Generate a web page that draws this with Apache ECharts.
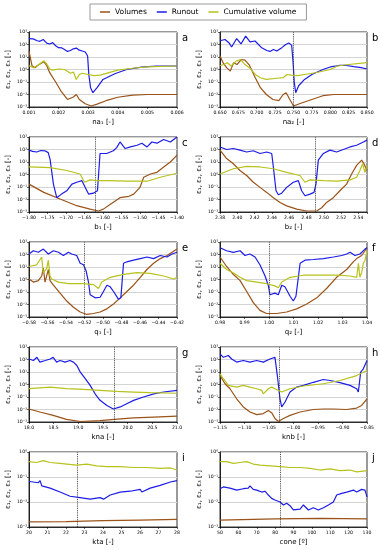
<!DOCTYPE html>
<html><head><meta charset="utf-8">
<script src="https://cdn.jsdelivr.net/npm/echarts@6/dist/echarts.min.js"></script>
<style>html,body{margin:0;padding:0;background:#fff}#c{width:380px;height:550px}</style>
</head><body><div id="c"></div>
<script>
// ---------- DATA ----------
const seriesNames = ['Volumes', 'Runout', 'Cumulative volume'];
const panelLetters = ['a','b','c','d','e','f','g','h','i','j'];
const xAxisNames = ['na\u2081 [-]','na\u2082 [-]','b\u2081 [-]','b\u2082 [-]','q\u2081 [-]','q\u2082 [-]','kna [-]','knb [-]','kta [-]','cone [\u00ba]'];
const yAxisName = '\u03b5\u2081, \u03b5\u2082, \u03b5\u2083 [-]';
const xMins = [0.001, 0.65, -1.8, 2.38, -0.58, 0.98, 18, -1.15, 20, 50];
const xMaxs = [0.006, 0.85, -1.4, 2.55, -0.42, 1.04, 21, -0.85, 28, 130];
const xSteps = [0.001, 0.025, 0.05, 0.02, 0.02, 0.01, 0.5, 0.05, 1, 10];
const xDecimals = [3, 3, 2, 2, 2, 2, 1, 2, 0, 0];
const optimumX = [0.00315, 0.753, -1.617, 2.488, -0.515, 1.0, 19.72, -1.03, 22.6, 83];
const yMinAll = 1e-3;
const yMaxs = [1e3, 1e3, 1e3, 1e3, 1e3, 1e3, 1e3, 1e3, 1, 1];

// panel a
const aVol = [[0.001,30],[0.00105,7.9],[0.0011,2.0],[0.0012,1.4],[0.0013,2.2],[0.0015,4.2],[0.0016,2.0],[0.0017,0.56],[0.0019,0.1],[0.0021,0.016],[0.0023,0.004],[0.0025,0.0063],[0.0026,0.01],[0.0027,0.004],[0.0029,0.0018],[0.0031,0.0012],[0.0033,0.0017],[0.0036,0.0032],[0.004,0.006],[0.0045,0.0089],[0.005,0.01],[0.006,0.01]];
const aRun = [[0.001,300],[0.00114,280],[0.00128,200],[0.00137,180],[0.00148,250],[0.0016,130],[0.0017,110],[0.0018,140],[0.0019,79],[0.002,56],[0.0021,54],[0.0022,40],[0.0023,28],[0.0024,33],[0.0025,45],[0.0026,52],[0.0027,35],[0.0028,30],[0.0029,25],[0.00298,12],[0.00302,0.4],[0.00308,0.035],[0.00316,0.014],[0.0033,0.035],[0.0035,0.16],[0.0039,0.46],[0.0043,1.0],[0.0048,1.55],[0.0053,1.9],[0.006,1.9]];
const aCum = [[0.001,2.0],[0.00115,1.4],[0.0013,2.2],[0.0015,5.0],[0.0016,2.8],[0.0017,1.1],[0.0018,0.89],[0.002,1.1],[0.0022,1.0],[0.0024,0.5],[0.0025,0.63],[0.0026,0.16],[0.0027,0.4],[0.0028,0.5],[0.003,0.4],[0.0032,0.32],[0.0034,0.35],[0.0037,0.56],[0.004,0.89],[0.0045,1.26],[0.005,1.6],[0.006,1.9]];
// panel b
const bVol = [[0.65,12],[0.6545,3.2],[0.659,1.4],[0.664,0.74],[0.6685,3.5],[0.673,2.5],[0.679,6.3],[0.684,5.6],[0.69,2.2],[0.698,0.22],[0.705,0.035],[0.713,0.01],[0.722,0.004],[0.73,0.0032],[0.736,0.01],[0.74,0.014],[0.745,0.004],[0.75,0.0012],[0.76,0.002],[0.775,0.004],[0.79,0.008],[0.805,0.01],[0.85,0.01]];
const bRun = [[0.65,200],[0.6568,250],[0.6625,130],[0.6658,63],[0.6727,300],[0.6786,110],[0.6849,470],[0.6909,160],[0.6977,190],[0.7068,54],[0.7136,33],[0.718,28],[0.7227,40],[0.7273,30],[0.7341,56],[0.739,95],[0.7435,130],[0.7475,89],[0.7495,3.2],[0.751,0.1],[0.753,0.014],[0.757,0.05],[0.765,0.16],[0.775,0.4],[0.79,1.0],[0.8,1.6],[0.812,2.1],[0.822,2.1],[0.832,1.7],[0.842,1.4],[0.85,1.1]];
const bCum = [[0.65,2.0],[0.655,2.5],[0.66,3.5],[0.665,1.9],[0.672,4.7],[0.678,6.3],[0.684,2.5],[0.69,1.4],[0.698,0.4],[0.705,0.22],[0.713,0.16],[0.727,0.2],[0.736,0.22],[0.741,0.4],[0.747,0.35],[0.755,0.32],[0.765,0.4],[0.78,0.55],[0.8,1.0],[0.81,1.9],[0.825,2.5],[0.85,3.5]];
// panel c
const cVol = [[-1.8,0.17],[-1.76,0.037],[-1.716,0.011],[-1.671,0.0032],[-1.635,0.0017],[-1.612,0.0012],[-1.599,0.0017],[-1.58,0.0042],[-1.554,0.014],[-1.53,0.018],[-1.517,0.027],[-1.5,0.093],[-1.49,0.6],[-1.472,1.1],[-1.454,1.5],[-1.436,4.0],[-1.418,10],[-1.4,35]];
const cRun = [[-1.8,89],[-1.79,71],[-1.779,63],[-1.768,83],[-1.757,79],[-1.748,56],[-1.743,16],[-1.734,0.17],[-1.725,0.014],[-1.712,0.027],[-1.698,0.05],[-1.684,0.17],[-1.671,0.24],[-1.657,0.32],[-1.648,0.093],[-1.639,0.027],[-1.626,0.032],[-1.615,0.05],[-1.608,48],[-1.59,48],[-1.572,79],[-1.563,140],[-1.554,400],[-1.54,120],[-1.526,160],[-1.508,220],[-1.495,320],[-1.481,160],[-1.468,400],[-1.454,320],[-1.436,630],[-1.418,400],[-1.4,1000]];
const cCum = [[-1.8,4.0],[-1.743,3.5],[-1.698,2.1],[-1.662,1.1],[-1.65,0.24],[-1.635,0.37],[-1.617,0.32],[-1.59,0.32],[-1.536,0.29],[-1.481,0.29],[-1.445,0.6],[-1.4,1.26]];
// panel d
const dVol = [[2.38,89],[2.3877,19],[2.3954,7.2],[2.4031,2.1],[2.4108,0.83],[2.4185,0.24],[2.4263,0.093],[2.434,0.037],[2.4417,0.014],[2.4494,0.0058],[2.4571,0.0031],[2.4687,0.0017],[2.4802,0.0012],[2.4918,0.0012],[2.4976,0.0022],[2.5033,0.0058],[2.511,0.014],[2.5187,0.05],[2.5264,0.17],[2.5322,1.1],[2.538,5.4],[2.5438,14],[2.5465,7.2],[2.55,2.1]];
const dRun = [[2.38,160],[2.3877,100],[2.3954,120],[2.4031,89],[2.4108,63],[2.4185,79],[2.4263,48],[2.434,63],[2.4398,48],[2.4417,4.0],[2.4448,0.05],[2.4475,0.024],[2.4513,0.032],[2.4571,0.093],[2.4648,0.24],[2.4706,0.32],[2.4744,0.05],[2.4783,0.02],[2.4841,0.027],[2.4887,0.037],[2.491,0.17],[2.4937,14],[2.4995,48],[2.5072,89],[2.5149,63],[2.5226,100],[2.5303,160],[2.538,220],[2.5458,400],[2.55,560]];
const dCum = [[2.38,1.1],[2.3954,2.9],[2.4108,4.5],[2.4263,4.0],[2.4417,2.9],[2.4571,1.5],[2.4725,0.83],[2.4783,0.24],[2.4841,0.37],[2.4995,0.32],[2.5149,0.29],[2.5303,0.37],[2.538,0.6],[2.5418,2.1],[2.5449,7.2],[2.5476,1.5],[2.55,5.4]];
// panel e
const eVol = [[-0.58,1.1],[-0.5753,0.62],[-0.5699,0.81],[-0.5663,1.9],[-0.5645,8.3],[-0.5627,0.62],[-0.5591,6.3],[-0.5573,0.81],[-0.5536,0.35],[-0.5464,0.081],[-0.5392,0.019],[-0.532,0.006],[-0.5247,0.0025],[-0.5175,0.0016],[-0.5103,0.0019],[-0.5031,0.0025],[-0.4958,0.0045],[-0.4886,0.011],[-0.4814,0.034],[-0.4742,0.11],[-0.467,0.35],[-0.4597,1.5],[-0.4525,6.3],[-0.4453,20],[-0.4381,47],[-0.4308,83],[-0.4254,150],[-0.42,270]];
const eRun = [[-0.58,110],[-0.5753,200],[-0.5699,150],[-0.5645,270],[-0.5591,110],[-0.5536,200],[-0.5482,150],[-0.5428,83],[-0.5374,150],[-0.5338,110],[-0.5284,83],[-0.5247,20],[-0.5211,15],[-0.5182,4.7],[-0.5157,0.62],[-0.5139,0.06],[-0.5085,0.034],[-0.5031,0.038],[-0.4995,0.11],[-0.4958,0.35],[-0.4922,0.26],[-0.4886,0.11],[-0.4832,0.026],[-0.4807,0.034],[-0.4778,20],[-0.4742,26],[-0.467,35],[-0.4597,47],[-0.4525,63],[-0.4453,47],[-0.4381,83],[-0.4308,63],[-0.4254,110],[-0.42,150]];
const eCum = [[-0.58,11],[-0.5717,15],[-0.5663,63],[-0.5645,3.5],[-0.5608,7.9],[-0.5591,35],[-0.5573,1.9],[-0.5555,1.1],[-0.5482,0.62],[-0.5374,0.46],[-0.5211,0.46],[-0.5103,0.39],[-0.5049,0.19],[-0.5013,0.62],[-0.4922,1.5],[-0.4778,2.6],[-0.4634,3.5],[-0.4489,3.1],[-0.4344,1.9],[-0.4236,1.1],[-0.42,1.5]];
// panel f
const fVol = [[0.98,63],[0.9827,11],[0.9854,2.6],[0.9882,0.81],[0.9909,0.11],[0.9936,0.014],[0.9963,0.0034],[0.999,0.0019],[1.0031,0.0019],[1.0072,0.0025],[1.0113,0.0045],[1.0154,0.011],[1.0195,0.034],[1.0235,0.19],[1.0276,1.5],[1.0317,6.3],[1.0344,26],[1.0358,47],[1.0378,83],[1.0392,200],[1.04,350]];
const fRun = [[0.98,350],[0.9827,200],[0.9854,150],[0.9882,200],[0.9902,83],[0.9922,110],[0.9943,63],[0.9963,15],[0.9984,1.9],[0.9997,0.35],[1.0004,0.06],[1.0024,0.081],[1.0038,0.06],[1.0052,0.35],[1.0065,0.26],[1.0086,0.046],[1.0099,0.019],[1.011,0.046],[1.0127,20],[1.0147,35],[1.0181,40],[1.0222,47],[1.0263,63],[1.0297,83],[1.0317,110],[1.0331,150],[1.0351,83],[1.0371,110],[1.0392,270],[1.04,350]];
const fCum = [[0.98,20],[0.9827,6.3],[0.9854,3.5],[0.9882,1.5],[0.9909,0.81],[0.995,0.62],[0.9991,0.46],[1.0024,0.31],[1.0038,0.22],[1.0052,0.62],[1.0086,1.5],[1.014,2.2],[1.0222,2.2],[1.0276,2.2],[1.0331,1.9],[1.0358,1.5],[1.0365,20],[1.0371,1.5],[1.0378,3.5],[1.0385,20],[1.0392,35],[1.04,200]];
// panel g
const gVol = [[18,0.011],[18.22,0.0063],[18.49,0.0034],[18.76,0.0016],[19.04,0.0011],[19.44,0.0013],[19.73,0.0016],[20.12,0.0021],[20.53,0.0025],[21,0.003]];
const gRun = [[18,110],[18.09,83],[18.16,150],[18.22,62],[18.33,83],[18.43,110],[18.49,150],[18.56,62],[18.63,83],[18.73,62],[18.83,83],[18.9,62],[18.97,33],[19.04,9.8],[19.14,2.9],[19.24,0.85],[19.34,0.18],[19.44,0.054],[19.58,0.021],[19.71,0.011],[19.85,0.016],[19.98,0.029],[20.12,0.054],[20.32,0.1],[20.53,0.18],[20.73,0.25],[21,0.34]];
const gCum = [[18,0.46],[18.43,0.62],[18.76,0.46],[19.1,0.41],[19.44,0.34],[19.78,0.28],[20.12,0.25],[20.46,0.22],[21,0.2]];
// panel h
const hVol = [[-1.15,5.2],[-1.1398,1.15],[-1.1296,0.46],[-1.116,0.072],[-1.1024,0.016],[-1.0888,0.0063],[-1.0752,0.0039],[-1.0616,0.0047],[-1.0514,0.0085],[-1.0446,0.0056],[-1.0378,0.0019],[-1.031,0.0011],[-1.0207,0.0019],[-1.0071,0.0034],[-0.9867,0.0063],[-0.9595,0.01],[-0.9391,0.011],[-0.9187,0.011],[-0.8915,0.01],[-0.8711,0.013],[-0.8609,0.021],[-0.85,0.072]];
const hRun = [[-1.15,280],[-1.1432,150],[-1.133,210],[-1.1262,110],[-1.116,62],[-1.1024,83],[-1.0888,62],[-1.0752,83],[-1.0616,62],[-1.048,110],[-1.0378,150],[-1.033,5.2],[-1.0276,0.072],[-1.0241,0.016],[-1.0173,0.04],[-1.0071,0.25],[-0.9935,0.62],[-0.9799,0.85],[-0.9595,1.5],[-0.9391,2.5],[-0.9255,2.1],[-0.9051,1.4],[-0.8847,0.85],[-0.8711,0.46],[-0.8677,0.25],[-0.8629,9.8],[-0.8575,18],[-0.85,83]];
const hCum = [[-1.15,7.2],[-1.1432,2.9],[-1.133,0.85],[-1.116,0.62],[-1.1024,0.85],[-1.0888,0.62],[-1.0752,0.46],[-1.065,0.34],[-1.0616,0.18],[-1.0514,0.46],[-1.0446,0.62],[-1.0378,0.46],[-1.0241,0.25],[-1.0071,0.46],[-0.9799,0.76],[-0.9391,1.15],[-0.9051,2.1],[-0.8711,5.2],[-0.85,13]];
// panel i
const iVol = [[20,0.0016],[22,0.00165],[24,0.0018],[26,0.0019],[28,0.002]];
const iRun = [[20,0.066],[20.23,0.063],[20.51,0.059],[20.6,0.072],[20.69,0.044],[21.14,0.036],[21.68,0.025],[22.22,0.017],[22.76,0.015],[23.3,0.013],[23.84,0.015],[24.03,0.013],[24.39,0.019],[24.93,0.025],[25.47,0.027],[26.01,0.032],[26.1,0.025],[26.55,0.036],[27.09,0.046],[27.64,0.063],[28,0.072]];
const iCum = [[20,0.41],[20.41,0.38],[20.78,0.45],[21.14,0.38],[21.68,0.35],[22.04,0.33],[22.58,0.3],[23.12,0.33],[23.66,0.28],[24.21,0.26],[24.93,0.26],[25.65,0.24],[26.37,0.24],[27.09,0.22],[27.64,0.23],[28,0.19]];
// panel j
const jVol = [[50,0.0019],[80,0.0021],[105,0.0022],[130,0.0021]];
const jRun = [[50,0.034],[51.8,0.04],[55.4,0.036],[59.1,0.03],[62.7,0.034],[65.4,0.036],[66.3,0.044],[68.1,0.032],[70,0.03],[72.7,0.025],[74.5,0.027],[76.3,0.019],[78.1,0.014],[79.9,0.012],[82.7,0.01],[84.5,0.0076],[86.3,0.0089],[88.1,0.0071],[89.9,0.0048],[93.6,0.0052],[95.4,0.0076],[98.1,0.0048],[100.8,0.0059],[103.5,0.0048],[106.3,0.0059],[109,0.0076],[111.7,0.01],[113.5,0.019],[116.2,0.022],[119,0.025],[122.6,0.03],[124.4,0.025],[127.1,0.032],[128.9,0.03],[130,0.016]];
const jCum = [[50,0.41],[53.6,0.41],[57.3,0.35],[60.9,0.38],[64.5,0.41],[68.1,0.33],[71.8,0.3],[77.2,0.28],[82.7,0.26],[88.1,0.24],[93.6,0.24],[99,0.22],[104.4,0.19],[109.9,0.21],[115.3,0.18],[120.7,0.19],[124.4,0.16],[130,0.18]];

const panelData = [
  [aVol, aRun, aCum], [bVol, bRun, bCum], [cVol, cRun, cCum], [dVol, dRun, dCum], [eVol, eRun, eCum],
  [fVol, fRun, fCum], [gVol, gRun, gCum], [hVol, hRun, hCum], [iVol, iRun, iCum], [jVol, jRun, jCum]
];

// ---------- STYLE / LAYOUT ----------
const colors = ['#9a5318', '#1c1ce6', '#b7c21c'];
const FONT = 'DejaVu Sans';
const rowTops = [32, 137, 242, 347, 452];
const gridH = 75;
const colLeft = [29, 220];
const colW = [148, 147];

const SUP = {'-':'\u207b','0':'\u2070','1':'\u00b9','2':'\u00b2','3':'\u00b3','4':'\u2074','5':'\u2075','6':'\u2076','7':'\u2077','8':'\u2078','9':'\u2079'};
function supStr(n){ return String(n).split('').map(ch => SUP[ch] || ch).join(''); }

const grids = [], xAxes = [], yAxes = [], series = [], graphics = [];
for (let p = 0; p < 10; p++) {
  const col = p % 2, row = Math.floor(p / 2);
  const left = colLeft[col], top = rowTops[row], w = colW[col];
  grids.push({left: left, top: top, width: w, height: gridH, show: true, borderColor: '#000', borderWidth: 0.8, backgroundColor: '#fff'});
  const mn = xMins[p], mx = xMaxs[p], st = xSteps[p], dec = xDecimals[p];
  xAxes.push({
    type: 'value', gridIndex: p, min: mn, max: mx, interval: st,
    name: xAxisNames[p], nameLocation: 'middle', nameGap: 12,
    nameTextStyle: {fontFamily: FONT, fontSize: 7, color: '#000'},
    axisLine: {show: true, onZero: false, lineStyle: {color: '#000', width: 0.8}},
    axisTick: {show: true, length: 2, lineStyle: {color: '#000', width: 0.6}},
    splitLine: {show: false},
    axisLabel: {fontFamily: FONT, fontSize: 4.6, color: '#000', margin: 3, hideOverlap: false,
      formatter: function (v) {
        const k = (v - mn) / st;
        if (Math.abs(k - Math.round(k)) > 1e-6) return '';
        const s = Math.abs(v).toFixed(dec);
        return (v < -1e-12 ? '\u2212' : '') + s;
      }}
  });
  yAxes.push({
    type: 'log', logBase: 10, gridIndex: p, min: yMinAll, max: yMaxs[p], interval: 1, splitNumber: 6,
    name: yAxisName, nameLocation: 'middle', nameGap: 17, nameRotate: 90,
    nameTextStyle: {fontFamily: FONT, fontSize: 7, color: '#000'},
    axisLine: {show: true, lineStyle: {color: '#000', width: 0.8}},
    axisTick: {show: true, length: 2, lineStyle: {color: '#000', width: 0.6}},
    minorTick: {show: false},
    splitLine: {show: true, lineStyle: {color: '#d4d4d4', width: 1.2}},
    axisLabel: {fontFamily: FONT, fontSize: 4.6, color: '#000', margin: 2,
      formatter: function (v) { return '10' + supStr(Math.round(Math.log10(v))); }}
  });
  const dat = panelData[p];
  for (let s = 0; s < 3; s++) {
    const ser = {
      name: seriesNames[s], type: 'line', xAxisIndex: p, yAxisIndex: p, data: dat[s],
      showSymbol: false, symbol: 'none', animation: false, silent: true,
      lineStyle: {color: colors[s], width: 1.2}, itemStyle: {color: colors[s]}, z: 3 + s
    };
    if (s === 0) {
      ser.markLine = {silent: true, symbol: ['none', 'none'], animation: false,
        label: {show: false}, lineStyle: {type: 'dotted', color: '#333', width: 0.9},
        data: [{xAxis: optimumX[p]}]};
    }
    series.push(ser);
  }
  graphics.push({type: 'text', left: left + w + 5, top: top + 1,
    style: {text: panelLetters[p], font: '10px "DejaVu Sans"', fill: '#000'}});
}

const chart = echarts.init(document.getElementById('c'), null, {renderer: 'canvas'});
chart.setOption({
  animation: false,
  backgroundColor: '#fff',
  legend: {
    top: 4, left: 90, data: seriesNames,
    icon: 'rect', itemWidth: 10, itemHeight: 1.5, itemGap: 10,
    textStyle: {fontFamily: FONT, fontSize: 7.5, color: '#000'},
    borderColor: '#999', borderWidth: 1, padding: [4, 10], backgroundColor: '#fff'
  },
  grid: grids, xAxis: xAxes, yAxis: yAxes, series: series, graphic: graphics
});
</script></body></html>
